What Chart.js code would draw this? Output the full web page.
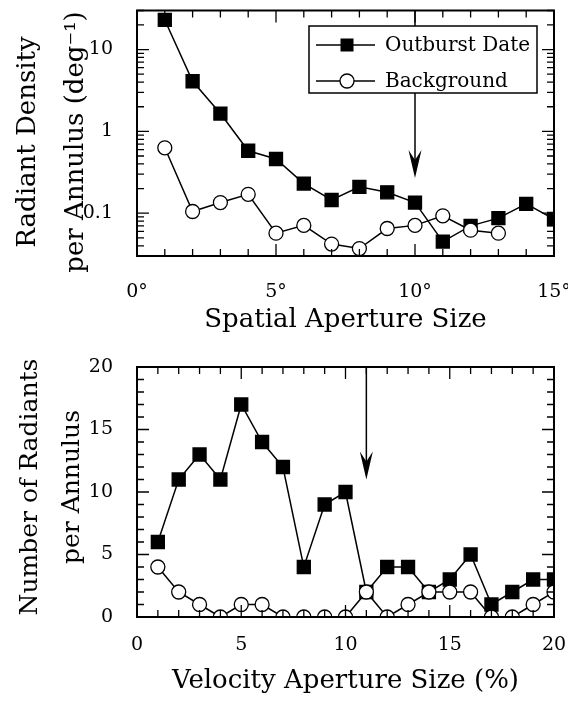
<!DOCTYPE html>
<html lang="en">
<head>
<meta charset="UTF-8">
<title>Radiant Density and Radiant Counts per Annulus</title>
<script src="https://cdn.jsdelivr.net/npm/chart.js"></script>
<style>
    html, body { margin: 0; padding: 0; background: #fff; }
    .plot { position: relative; width: 568px; }
    #topPlot { height: 340px; }
    #bottomPlot { height: 361px; }
</style>
</head>
<body>
<div class="plot" id="topPlot"><canvas id="spatial"></canvas></div>
<div class="plot" id="bottomPlot"><canvas id="velocity"></canvas></div>
<script>
// ---- data ----
const spatialSizes = [1, 2, 3, 4, 5, 6, 7, 8, 9, 10, 11, 12, 13, 14, 15];
const outburstDensity = [23, 4.1, 1.65, 0.58, 0.46, 0.23, 0.145, 0.21, 0.18, 0.135, 0.045, 0.07, 0.087, 0.13, 0.085];
const backgroundDensity = [0.63, 0.105, 0.135, 0.17, 0.057, 0.071, 0.042, 0.037, 0.065, 0.071, 0.093, 0.062, 0.057];
const spatialTicks = [0, 5, 10, 15];
const densityTicks = [0.1, 1, 10];

const velocitySizes = [1, 2, 3, 4, 5, 6, 7, 8, 9, 10, 11, 12, 13, 14, 15, 16, 17, 18, 19, 20];
const outburstCounts = [6, 11, 13, 11, 17, 14, 12, 4, 9, 10, 2, 4, 4, 2, 3, 5, 1, 2, 3, 3];
const backgroundCounts = [4, 2, 1, 0, 1, 1, 0, 0, 0, 0, 2, 0, 1, 2, 2, 2, 0, 0, 1, 2];
const velocityTicks = [0, 5, 10, 15, 20];
const countTicks = [0, 5, 10, 15, 20];

// arrows: x position and tip value
const spatialArrow = [10, 0.27];
const velocityArrow = [11, 11];

const FONT = "'DejaVu Serif', serif";

function pairs(xs, ys) {
    return ys.map((v, i) => ({ x: xs[i], y: v }));
}

// inward ticks on all four sides + frame
const frame = {
    id: 'frame',
    afterDatasetsDraw(chart, args, o) {
        const { ctx, chartArea: a, scales: { x, y } } = chart;
        ctx.save();
        ctx.strokeStyle = '#000';
        ctx.lineWidth = 1.3;
        ctx.beginPath();
        o.xMinor.forEach(v => {
            const p = x.getPixelForValue(v);
            const len = o.xMajor.includes(v) ? 12 : 7;
            ctx.moveTo(p, a.bottom); ctx.lineTo(p, a.bottom - len);
            ctx.moveTo(p, a.top); ctx.lineTo(p, a.top + len);
        });
        o.yMinor.forEach(v => {
            const p = y.getPixelForValue(v);
            const len = o.yMajor.includes(v) ? 12 : 7;
            ctx.moveTo(a.left, p); ctx.lineTo(a.left + len, p);
            ctx.moveTo(a.right, p); ctx.lineTo(a.right - len, p);
        });
        ctx.stroke();
        ctx.lineWidth = 2;
        ctx.strokeRect(a.left, a.top, a.right - a.left, a.bottom - a.top);
        ctx.restore();
    }
};

// downward arrow marking the chosen aperture
const arrow = {
    id: 'arrow',
    afterDatasetsDraw(chart, args, o) {
        const { ctx, chartArea: a, scales: { x, y } } = chart;
        const px = x.getPixelForValue(o.at[0]);
        const tip = y.getPixelForValue(o.at[1]);
        ctx.save();
        ctx.strokeStyle = '#000';
        ctx.fillStyle = '#000';
        ctx.lineWidth = 1.5;
        ctx.beginPath();
        ctx.moveTo(px, a.top);
        ctx.lineTo(px, tip - 10);
        ctx.stroke();
        ctx.beginPath();
        ctx.moveTo(px, tip);
        ctx.lineTo(px - 6.5, tip - 28);
        ctx.lineTo(px, tip - 18);
        ctx.lineTo(px + 6.5, tip - 28);
        ctx.closePath();
        ctx.fill();
        ctx.restore();
    }
};

// boxed legend inside the plot
const boxLegend = {
    id: 'boxLegend',
    afterDatasetsDraw(chart, args, o) {
        if (!o.display) return;
        const { ctx } = chart;
        const b = o.box;
        ctx.save();
        ctx.fillStyle = '#fff';
        ctx.fillRect(b[0], b[1], b[2], b[3]);
        ctx.strokeStyle = '#000';
        ctx.lineWidth = 1.5;
        ctx.strokeRect(b[0], b[1], b[2], b[3]);
        ctx.font = o.font;
        ctx.textBaseline = 'middle';
        chart.data.datasets.forEach((ds, i) => {
            const yy = o.rows[i];
            ctx.beginPath();
            ctx.lineWidth = 1.5;
            ctx.moveTo(b[0] + 7, yy);
            ctx.lineTo(b[0] + 66, yy);
            ctx.stroke();
            const mx = b[0] + 38;
            if (ds.pointStyle === 'rect') {
                ctx.fillStyle = '#000';
                ctx.fillRect(mx - 6.5, yy - 6.5, 13, 13);
            } else {
                ctx.beginPath();
                ctx.arc(mx, yy, 7, 0, Math.PI * 2);
                ctx.fillStyle = '#fff';
                ctx.fill();
                ctx.lineWidth = 1.3;
                ctx.stroke();
            }
            ctx.fillStyle = '#000';
            ctx.fillText(ds.label, b[0] + 76, yy + 1);
        });
        ctx.restore();
    }
};

// two-line rotated y title
const sideTitle = {
    id: 'sideTitle',
    afterDraw(chart, args, o) {
        const { ctx } = chart;
        ctx.save();
        ctx.font = o.font;
        ctx.fillStyle = '#000';
        ctx.textAlign = 'center';
        ctx.textBaseline = 'alphabetic';
        o.lines.forEach((t, i) => {
            ctx.save();
            ctx.translate(o.x[i], o.center);
            ctx.rotate(-Math.PI / 2);
            ctx.fillText(t, 0, 0);
            ctx.restore();
        });
        ctx.restore();
    }
};

function range(a, b, step) {
    const out = [];
    for (let v = a; v <= b + 1e-9; v += step) out.push(Math.round(v * 1000) / 1000);
    return out;
}

function logMinor(min, max) {
    const out = [];
    [0.01, 0.1, 1, 10].forEach(d => {
        for (let k = 1; k <= 9; k++) {
            const v = +(d * k).toPrecision(3);
            if (v >= min && v <= max) out.push(v);
        }
    });
    return out;
}

function seriesStyle(filled) {
    return {
        borderColor: '#000',
        borderWidth: 1.5,
        pointStyle: filled ? 'rect' : 'circle',
        pointRadius: filled ? 9.2 : 7,
        pointBorderWidth: 1.3,
        pointBorderColor: '#000',
        pointBackgroundColor: filled ? '#000' : '#fff',
        clip: 0,
        tension: 0,
        fill: false
    };
}

function xAxis(ticks, min, max, label, unit, pad) {
    return {
        type: 'linear',
        min: min, max: max,
        afterBuildTicks: s => { s.ticks = ticks.map(v => ({ value: v })); },
        afterFit: s => { s.height = 84; s.paddingLeft = 0; s.paddingRight = 0; },
        grid: { display: false },
        border: { display: false },
        ticks: {
            color: '#000',
            padding: pad,
            maxRotation: 0,
            font: { family: FONT, size: 19 },
            callback: v => v + unit
        },
        title: {
            display: true, text: label, color: '#000',
            font: { family: FONT, size: 26, lineHeight: '30px' },
            padding: { top: 0, bottom: 5 }
        }
    };
}

function yAxis(type, ticks, min, max) {
    return {
        type: type,
        min: min, max: max,
        afterBuildTicks: s => { s.ticks = ticks.map(v => ({ value: v })); },
        afterFit: s => { s.width = 137; s.paddingTop = 0; s.paddingBottom = 0; },
        grid: { display: false },
        border: { display: false },
        ticks: {
            color: '#000',
            padding: 16,
            font: { family: FONT, size: 19 },
            callback: v => String(v)
        }
    };
}

Chart.defaults.animation = false;

new Chart(document.getElementById('spatial'), {
    type: 'line',
    data: {
        datasets: [
            Object.assign({ label: 'Outburst Date', data: pairs(spatialSizes, outburstDensity), order: 1 }, seriesStyle(true)),
            Object.assign({ label: 'Background', data: pairs(spatialSizes, backgroundDensity), order: 0 }, seriesStyle(false))
        ]
    },
    options: {
        responsive: true,
        maintainAspectRatio: false,
        devicePixelRatio: 1,
        layout: { padding: { top: 4, right: 14, left: 0, bottom: 0 } },
        scales: {
            x: xAxis(spatialTicks, 0, 15, 'Spatial Aperture Size', '°', 17),
            y: yAxis('logarithmic', densityTicks, 0.03, 30)
        },
        plugins: {
            legend: { display: false },
            tooltip: { enabled: false },
            arrow: { at: spatialArrow },
            boxLegend: { display: true, box: [309, 26, 228, 67], rows: [45, 81], font: "20px 'DejaVu Serif', serif" },
            frame: { xMinor: range(0, 15, 1), xMajor: spatialTicks, yMinor: logMinor(0.03, 30), yMajor: densityTicks },
            sideTitle: { lines: ['Radiant Density', 'per Annulus (deg⁻¹)'], x: [35, 83], center: 142, font: "26px 'DejaVu Serif', serif" }
        }
    },
    plugins: [arrow, boxLegend, frame, sideTitle]
});

new Chart(document.getElementById('velocity'), {
    type: 'line',
    data: {
        datasets: [
            Object.assign({ label: 'Outburst Date', data: pairs(velocitySizes, outburstCounts), order: 1 }, seriesStyle(true)),
            Object.assign({ label: 'Background', data: pairs(velocitySizes, backgroundCounts), order: 0 }, seriesStyle(false))
        ]
    },
    options: {
        responsive: true,
        maintainAspectRatio: false,
        devicePixelRatio: 1,
        layout: { padding: { top: 27, right: 14, left: 0, bottom: 0 } },
        scales: {
            x: xAxis(velocityTicks, 0, 20, 'Velocity Aperture Size (%)', '', 9),
            y: yAxis('linear', countTicks, 0, 20)
        },
        plugins: {
            legend: { display: false },
            tooltip: { enabled: false },
            arrow: { at: velocityArrow },
            boxLegend: { display: false },
            frame: { xMinor: range(0, 20, 1), xMajor: velocityTicks, yMinor: range(0, 20, 1), yMajor: countTicks },
            sideTitle: { lines: ['Number of Radiants', 'per Annulus'], x: [37, 79], center: 147, font: "25px 'DejaVu Serif', serif" }
        }
    },
    plugins: [arrow, boxLegend, frame, sideTitle]
});
</script>
</body>
</html>
